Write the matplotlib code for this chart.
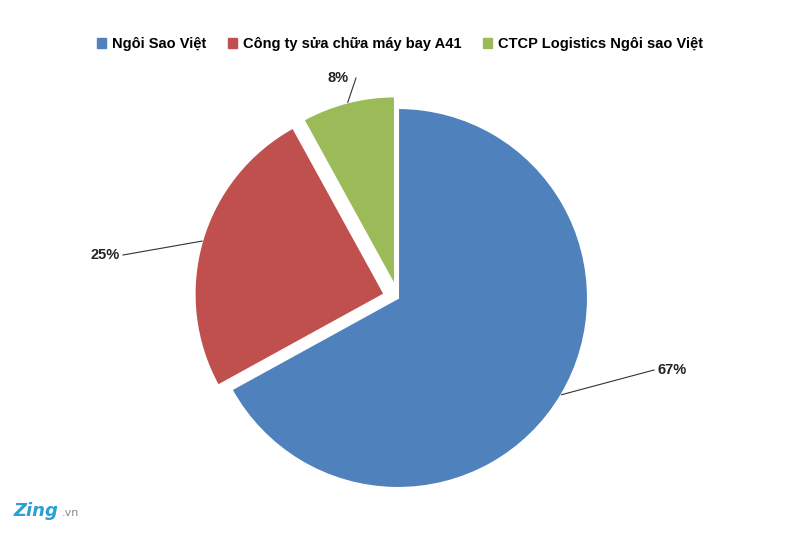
import matplotlib
matplotlib.use("Agg")
import matplotlib.pyplot as plt
import numpy as np

labels = ["Ngôi Sao Việt", "Công ty sửa chữa máy bay A41", "CTCP Logistics Ngôi sao Việt"]
values = [67, 25, 8]
pct_labels = ["67%", "25%", "8%"]
colors = ["#4F81BD", "#C0504D", "#9BBB59"]

fig = plt.figure(figsize=(8, 5.35), dpi=100)
ax = fig.add_axes([0, 0, 1, 1])

cx, cy, r = 398, 237, 190
wedges, _ = ax.pie(values, colors=colors, startangle=90, counterclock=False,
                   center=(cx, cy), radius=r, explode=[0, 14, 12],
                   wedgeprops=dict(edgecolor="white", linewidth=1.5), frame=True)
ax.set_xlim(0, 800); ax.set_ylim(0, 535); ax.set_aspect("equal"); ax.axis("off")

label_pos = [(672, 165), (105, 280), (338, 457)]
for w, lab, (tx, ty) in zip(wedges, pct_labels, label_pos):
    ang = np.deg2rad((w.theta1 + w.theta2) / 2)
    wx, wy = w.center
    ex, ey = wx + w.r * np.cos(ang), wy + w.r * np.sin(ang)
    ax.plot([ex, tx + (-18 if tx > ex else 18)], [ey, ty], color="#333333", lw=0.8)
    ax.text(tx, ty, lab, ha="center", va="center", fontsize=10.5, fontweight="bold",
            family="Liberation Sans", color="#222222")

handles = [plt.Rectangle((0, 0), 1, 1, color=c) for c in colors]
fig.legend(handles, labels, loc="upper center", bbox_to_anchor=(0.5, 0.955), ncol=3, frameon=False,
           handlelength=0.6, handleheight=0.6, columnspacing=1.5, handletextpad=0.4,
           prop=dict(family="Liberation Sans", weight="bold", size=10.5))

fig.text(0.017, 0.035, "Zing", color="#2a9fd6", fontsize=13, fontweight="bold", style="italic")
fig.text(0.077, 0.035, ".vn", color="#888888", fontsize=8)
fig.savefig("out.png", dpi=100)
